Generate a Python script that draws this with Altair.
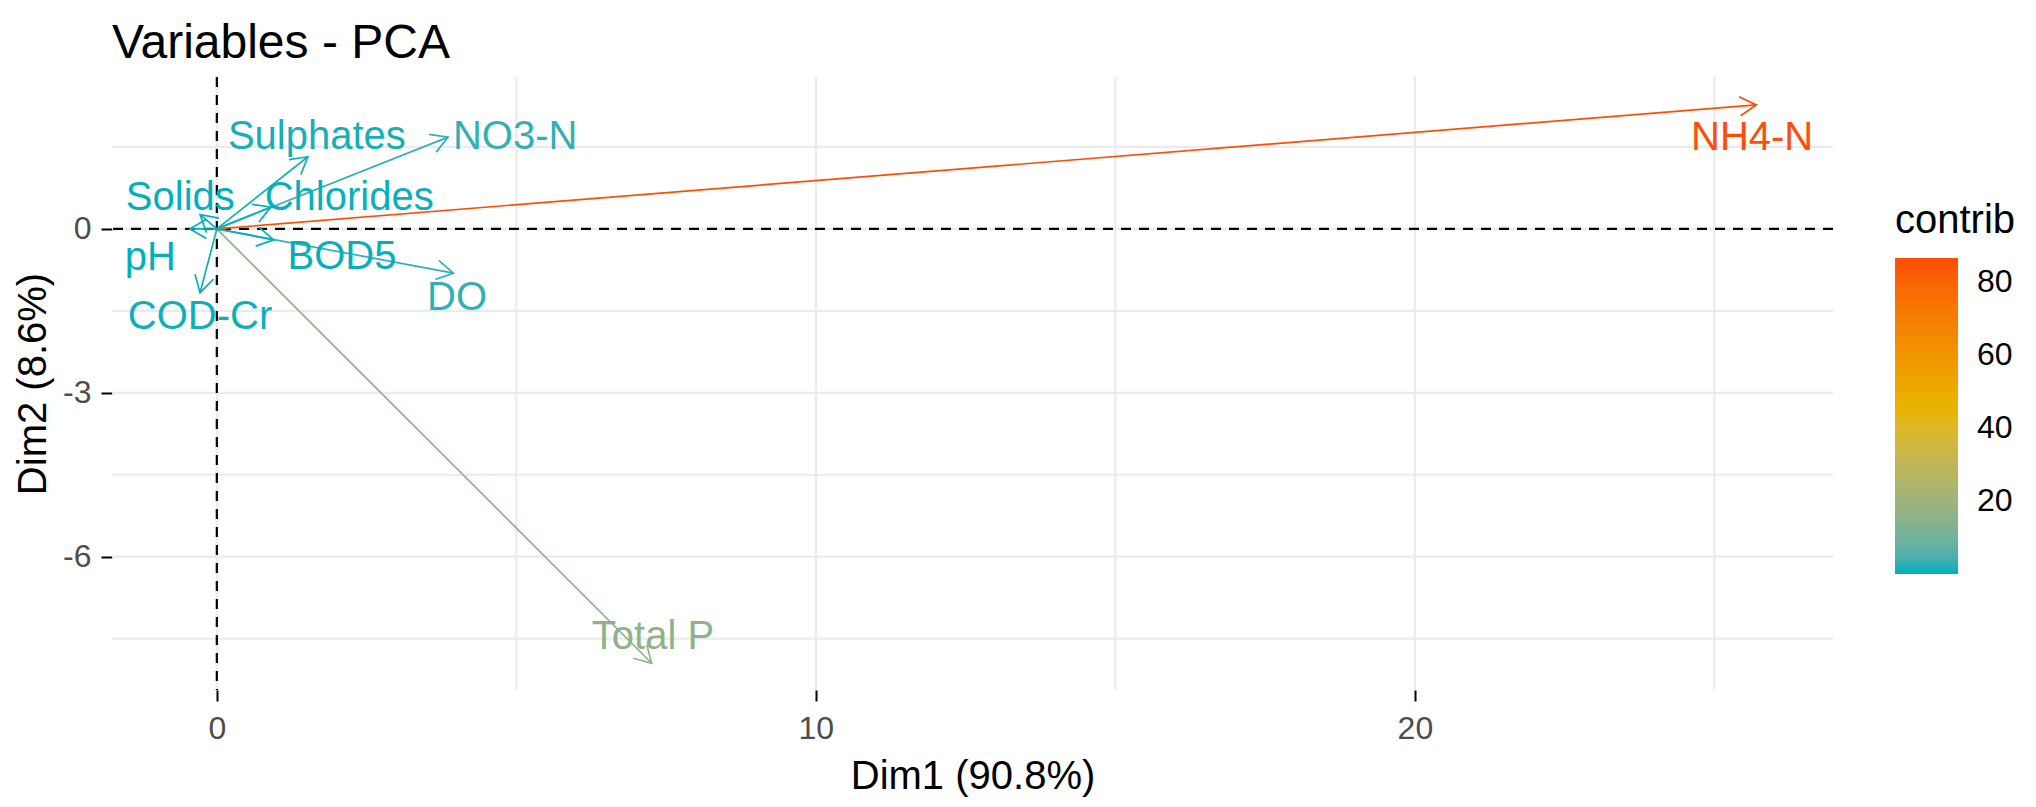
import altair as alt
import pandas as pd

# Variables
names = ["NH4-N", "Total P", "NO3-N", "DO", "Sulphates", "Chlorides", "BOD5", "Solids", "pH", "COD-Cr"]
dim1 = [25.7, 7.26, 3.86, 3.95, 1.52, 0.90, 0.95, -0.28, -0.45, -0.28]
dim2 = [2.27, -7.95, 1.68, -0.81, 1.32, 0.40, -0.20, 0.26, 0.00, -1.17]
contrib = [86.5, 16.0, 1.9, 1.8, 0.5, 0.2, 0.15, 0.05, 0.05, 0.25]
label_x = [25.63, 7.28, 4.98, 4.01, 1.67, 2.21, 2.09, -0.61, -1.11, -0.28]
label_y = [1.67, -7.47, 1.68, -1.26, 1.68, 0.57, -0.51, 0.57, -0.53, -1.62]

grid_x_major = [0, 10, 20]
grid_x_minor = [5, 15, 25]
grid_y_major = [0, -3, -6]
grid_y_minor = [1.5, -1.5, -4.5, -7.5]
x_domain = [-1.75, 26.98]
y_domain = [-8.44, 2.78]
legend_ticks = [20, 40, 60, 80]

FONT = "Liberation Sans"
W, H = 1721, 613
SX = W / (x_domain[1] - x_domain[0])
SY = H / (y_domain[1] - y_domain[0])

df = pd.DataFrame({"name": names, "dim1": dim1, "dim2": dim2, "contrib": contrib,
                   "lx": label_x, "ly": label_y})

xs = alt.Scale(domain=x_domain, nice=False, zero=False)
ys = alt.Scale(domain=y_domain, nice=False, zero=False)
cscale = alt.Scale(domain=[0, 43.25, 86.5], range=["#00AFBB", "#E7B800", "#FC4E07"],
                   interpolate="lab")
clegend = alt.Legend(title="contrib", type="gradient", orient="none", legendX=1783, legendY=124,
                     titleFont=FONT, titleFontSize=40, titleFontWeight="normal",
                     titleColor="black", titlePadding=17,
                     labelFont=FONT, labelFontSize=32, labelColor="black", labelOffset=19,
                     labelAlign="left",
                     gradientLength=316, gradientThickness=63, gradientStrokeWidth=0,
                     values=legend_ticks, direction="vertical")
color_leg = alt.Color("contrib:Q", scale=cscale, legend=clegend)
color = alt.Color("contrib:Q", scale=cscale, legend=None)

xaxis = alt.Axis(title="Dim1 (90.8%)", values=grid_x_major, labelExpr="toString(datum.value)",
                 grid=False, domain=False,
                 tickColor="black", tickWidth=2, tickSize=11,
                 labelFont=FONT, labelFontSize=32, labelColor="#4D4D4D", labelPadding=12,
                 titleFont=FONT, titleFontSize=40, titleFontWeight="normal",
                 titleColor="black", titlePadding=12)
yaxis = alt.Axis(title="Dim2 (8.6%)", values=grid_y_major, labelExpr="toString(datum.value)",
                 grid=False, domain=False,
                 tickColor="black", tickWidth=2, tickSize=11,
                 labelFont=FONT, labelFontSize=32, labelColor="#4D4D4D", labelPadding=10,
                 titleFont=FONT, titleFontSize=40, titleFontWeight="normal",
                 titleColor="black", titleX=-79, titleY=H / 2, titleAngle=270,
                 titleBaseline="middle", titleAlign="center")

gx = pd.DataFrame({"v": grid_x_major + grid_x_minor})
gy = pd.DataFrame({"v": grid_y_major + grid_y_minor})

grid_v = alt.Chart(gx).mark_rule(color="#EBEBEB", strokeWidth=2.2).encode(
    x=alt.X("v:Q", scale=xs, axis=xaxis))
grid_h = alt.Chart(gy).mark_rule(color="#EBEBEB", strokeWidth=2.2).encode(
    y=alt.Y("v:Q", scale=ys, axis=yaxis))

zero_v = alt.Chart(pd.DataFrame({"v": [0]})).mark_rule(
    color="black", strokeWidth=2.2, strokeDash=[10, 8]).encode(x=alt.X("v:Q", scale=xs))
zero_h = alt.Chart(pd.DataFrame({"v": [0]})).mark_rule(
    color="black", strokeWidth=2.2, strokeDash=[10, 8]).encode(y=alt.Y("v:Q", scale=ys))

base = alt.Chart(df)

arrows = base.transform_calculate(x0="0", y0="0").mark_rule(strokeWidth=1.7).encode(
    x=alt.X("x0:Q", scale=xs), y=alt.Y("y0:Q", scale=ys),
    x2="dim1:Q", y2="dim2:Q", color=color)

heads = base.transform_calculate(
    ang=f"(atan2(-datum.dim2*{SY}, datum.dim1*{SX})*180/PI + 360) % 360"
).mark_point(shape="M-1,-0.577L0,0L-1,0.577", filled=False, strokeWidth=1.7,
             size=1100, opacity=1).encode(
    x=alt.X("dim1:Q", scale=xs), y=alt.Y("dim2:Q", scale=ys),
    angle=alt.Angle("ang:Q", scale=None), color=color)

labels = base.mark_text(font=FONT, fontSize=40, align="center", baseline="middle").encode(
    x=alt.X("lx:Q", scale=xs), y=alt.Y("ly:Q", scale=ys), text="name:N", color=color)

# zero-area rects: carry only the colour legend
legend_layer = base.mark_rect(strokeWidth=0).encode(
    x=alt.X("dim1:Q", scale=xs), x2="dim1:Q",
    y=alt.Y("dim2:Q", scale=ys), y2="dim2:Q", color=color_leg)

chart = alt.layer(grid_v, grid_h, zero_v, zero_h, arrows, heads, labels, legend_layer).properties(
    width=W, height=H,
    title=alt.TitleParams("Variables - PCA", anchor="start", frame="group", font=FONT,
                          fontSize=48, fontWeight="normal", color="black", offset=8),
    autosize=alt.AutoSizeParams(type="none"),
    padding={"left": 104, "top": 69, "right": 194, "bottom": 109},
).resolve_legend(color="independent").configure_view(stroke=None)

chart.save("out.html", embed_options={"renderer": "svg", "actions": False})
